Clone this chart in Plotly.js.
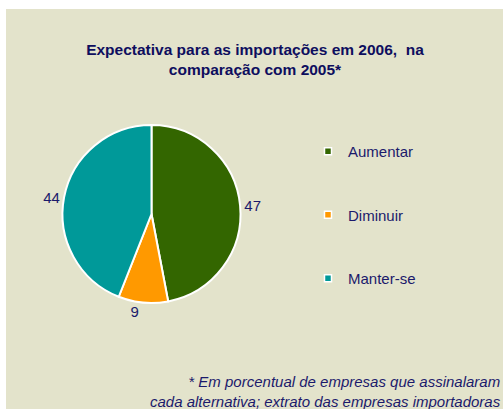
<!DOCTYPE html>
<html>
<head>
<meta charset="utf-8">
<script src="https://cdn.plot.ly/plotly-3.0.1.min.js"></script>
<style>html,body{margin:0;padding:0;background:#fff;}#chart{width:503px;height:409px;}</style>
</head>
<body>
<div id="chart"></div>
<script>
var categories = ["Aumentar", "Diminuir", "Manter-se"];
var values = [47, 9, 44];
var colors = ["#336600", "#FF9900", "#009999"];
var titleLine1 = "Expectativa para as importações em 2006,&nbsp; na";
var titleLine2 = "comparação com 2005*";
var footnote = "* Em porcentual de empresas que assinalaram<br>cada alternativa; extrato das empresas importadoras";

var W = 503, H = 409;
var bg = "#E3E3CB";
var navy = "#1B1A6B";
var fontFam = "Liberation Sans, Arial, sans-serif";

var traces = [{
  type: "pie",
  labels: categories,
  values: values,
  sort: false,
  direction: "clockwise",
  rotation: 0,
  marker: {colors: colors, line: {color: "#ffffff", width: 2}},
  textinfo: "value",
  textposition: "outside",
  outsidetextfont: {family: fontFam, size: 15, color: navy},
  showlegend: false,
  hoverinfo: "label+value",
  domain: {x: [62 / W, 241 / W], y: [(H - 303) / H, (H - 125) / H]}
}];

categories.forEach(function (c, i) {
  traces.push({
    type: "scatter",
    mode: "markers",
    x: [null], y: [null],
    name: c,
    legendgroup: c,
    marker: {symbol: "square", size: 7, color: colors[i], line: {color: "#ffffff", width: 1.5}},
    hoverinfo: "skip"
  });
});

var layout = {
  width: W, height: H,
  margin: {l: 0, r: 0, t: 0, b: 0},
  paper_bgcolor: "#ffffff",
  plot_bgcolor: "rgba(0,0,0,0)",
  font: {family: fontFam, size: 15, color: navy},
  title: {
    text: titleLine1 + "<br>" + titleLine2,
    font: {family: fontFam, size: 15.5, color: "#0E0E5E", weight: "bold"},
    x: 255 / W, xanchor: "center",
    y: (H - 55) / H, yanchor: "middle",
    xref: "paper", yref: "paper"
  },
  xaxis: {visible: false, domain: [0, 0.001]},
  yaxis: {visible: false, domain: [0, 0.001]},
  legend: {
    x: 308 / W, xanchor: "left",
    y: (H - 135) / H, yanchor: "top",
    bgcolor: "rgba(0,0,0,0)",
    font: {family: fontFam, size: 15, color: navy},
    tracegroupgap: 41,
    itemclick: false, itemdoubleclick: false
  },
  shapes: [{
    type: "rect", xref: "paper", yref: "paper", layer: "below",
    x0: 6 / W, x1: 1, y0: 0, y1: (H - 9) / H,
    fillcolor: bg, line: {width: 0}
  }],
  annotations: [{
    text: "<i>" + footnote + "</i>",
    xref: "paper", yref: "paper",
    x: 503 / W, xanchor: "right",
    y: (H - 391) / H, yanchor: "middle",
    align: "right", showarrow: false,
    font: {family: fontFam, size: 15, color: navy}
  }]
};

Plotly.newPlot("chart", traces, layout, {displayModeBar: false, staticPlot: true});
</script>
</body>
</html>
